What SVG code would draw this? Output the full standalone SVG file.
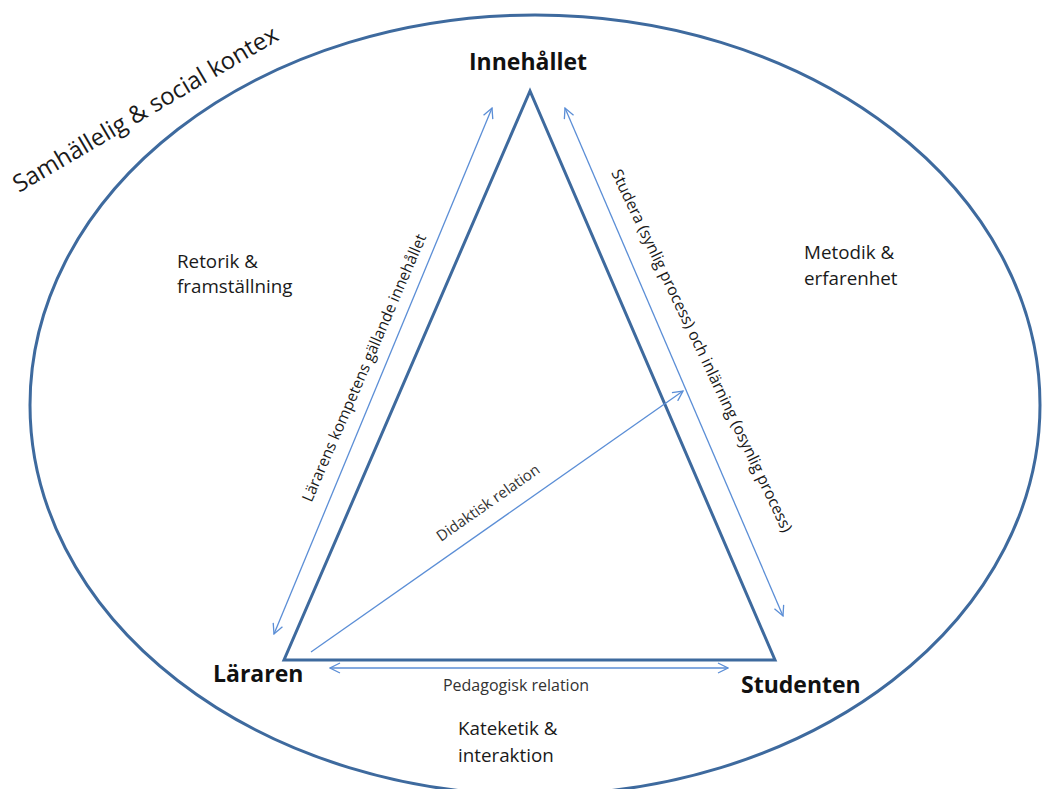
<svg xmlns="http://www.w3.org/2000/svg" width="1042" height="789" viewBox="0 0 1042 789">
<style>
  .lbl { font-family: "Open Sans", "Liberation Sans", sans-serif; fill: #1a1a1a; }
  .node { font-family: "Open Sans", "Liberation Sans", sans-serif; font-weight: bold; font-size: 23px; fill: #111; }
  .ctx { font-size: 18.8px; }
  .rel { font-size: 15px; fill: #333; }
  .arrow { stroke: #5B8ED6; stroke-width: 1.3; fill: none; marker-end: url(#head); marker-start: url(#head); }
  .shape { stroke: #3E6A9E; stroke-width: 3; fill: none; }
</style>
<defs>
  <marker id="head" viewBox="0 0 12 12" refX="11" refY="6" markerWidth="12" markerHeight="12" markerUnits="userSpaceOnUse" orient="auto-start-reverse">
    <path d="M1,1 L11,6 L1,11" fill="none" stroke="#5B8ED6" stroke-width="1.3"/>
  </marker>
</defs>
<rect width="1042" height="789" fill="#ffffff"/>
<g id="context">
  <ellipse class="shape" cx="535" cy="405" rx="505" ry="390"/>
  <text class="lbl" font-size="24" transform="translate(19,193) rotate(-30.5)">Samhällelig &amp; social kontex</text>
</g>
<g id="triangle">
  <polygon class="shape" points="530,91 284,660 775,660" stroke-linejoin="miter"/>
</g>
<g id="connectors">
  <line class="arrow" x1="274" y1="634" x2="492" y2="108"/>
  <line class="arrow" x1="565" y1="108" x2="783" y2="616"/>
  <line class="arrow" x1="330" y1="668" x2="728" y2="668"/>
  <line x1="311" y1="652" x2="683" y2="391" stroke="#5B8ED6" stroke-width="1.3" marker-end="url(#head)"/>
</g>
<g id="node-innehallet"><text class="node" x="528" y="70" text-anchor="middle">Innehållet</text></g>
<g id="node-lararen"><text class="node" x="213" y="682">Läraren</text></g>
<g id="node-studenten"><text class="node" x="741" y="693">Studenten</text></g>
<g id="label-retorik">
  <text class="lbl ctx" x="177" y="268">Retorik &amp;</text>
  <text class="lbl ctx" x="177" y="293">framställning</text>
</g>
<g id="label-metodik">
  <text class="lbl ctx" x="804" y="259">Metodik &amp;</text>
  <text class="lbl ctx" x="804" y="285">erfarenhet</text>
</g>
<g id="label-kateketik">
  <text class="lbl ctx" x="458" y="735">Kateketik &amp;</text>
  <text class="lbl ctx" x="458" y="762">interaktion</text>
</g>
<g id="label-pedagogisk"><text class="lbl rel" style="font-size:16px" x="516" y="691" text-anchor="middle">Pedagogisk relation</text></g>
<g id="label-didaktisk"><text class="lbl rel" text-anchor="middle" transform="translate(491,507) rotate(-35)">Didaktisk relation</text></g>
<g id="label-kompetens"><text class="lbl" font-size="15.5" text-anchor="middle" transform="translate(369,370) rotate(-66.6)">Lärarens kompetens gällande innehållet</text></g>
<g id="label-studera"><text class="lbl" font-size="15.8" text-anchor="middle" transform="translate(697,353) rotate(64.5)">Studera (synlig process) och inlärning (osynlig process)</text></g>
</svg>
